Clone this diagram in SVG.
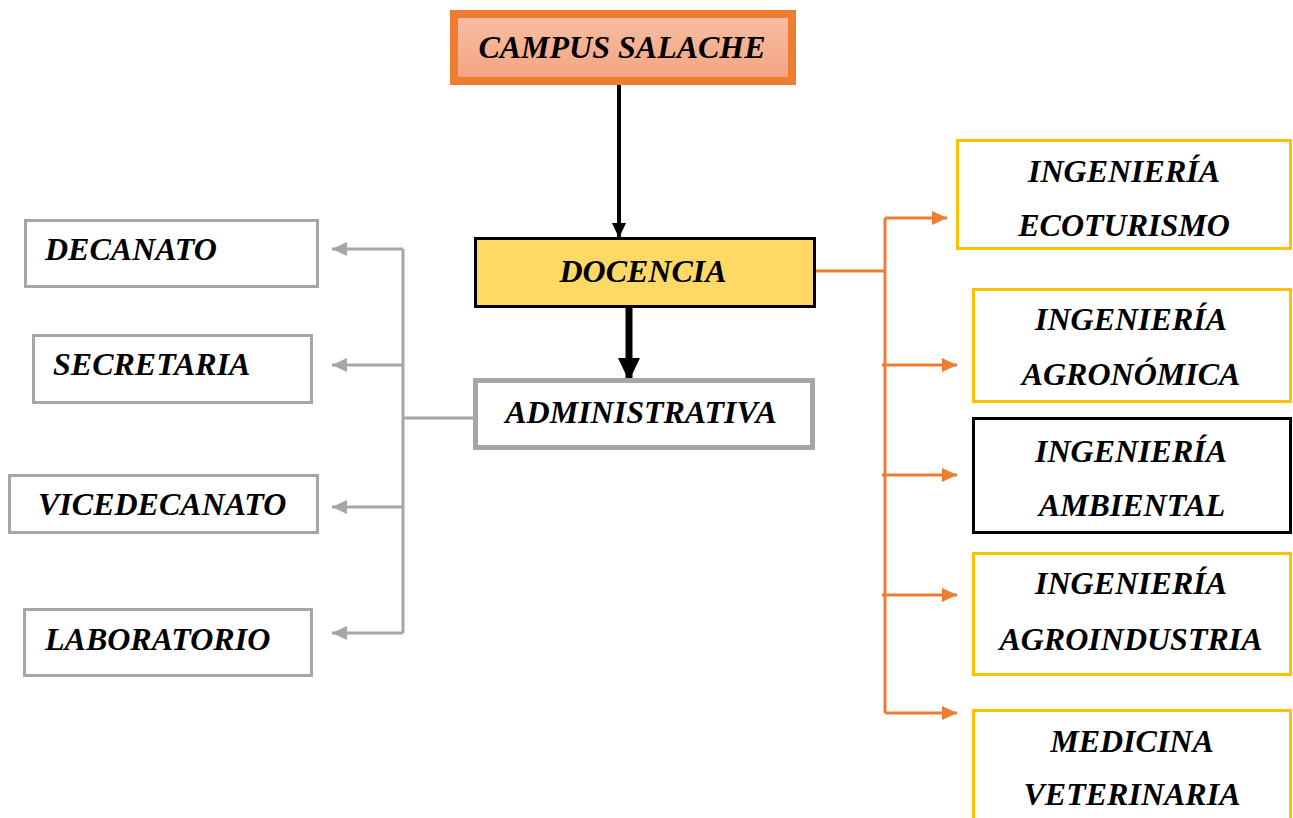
<svg xmlns="http://www.w3.org/2000/svg" width="1293" height="818" viewBox="0 0 1293 818">
<defs>
<linearGradient id="gCampus" x1="0" y1="0" x2="0" y2="1">
<stop offset="0" stop-color="#F7BEA4"/>
<stop offset="1" stop-color="#F4A47F"/>
</linearGradient>
<marker id="mGray" markerUnits="userSpaceOnUse" markerWidth="16" markerHeight="16" viewBox="0 0 16 16" refX="15" refY="8" orient="auto">
<path d="M0,1 L15,8 L0,15 Z" fill="#A6A6A6"/>
</marker>
<marker id="mOrange" markerUnits="userSpaceOnUse" markerWidth="16" markerHeight="16" viewBox="0 0 16 16" refX="15" refY="8" orient="auto">
<path d="M0,1 L15,8 L0,15 Z" fill="#ED7D31"/>
</marker>
<marker id="mBlack" markerUnits="userSpaceOnUse" markerWidth="16" markerHeight="16" viewBox="0 0 16 16" refX="15" refY="8" orient="auto">
<path d="M0,1 L15,8 L0,15 Z" fill="#000"/>
</marker>
<marker id="mBlackBig" markerUnits="userSpaceOnUse" markerWidth="24" markerHeight="24" viewBox="0 0 24 24" refX="23" refY="12" orient="auto">
<path d="M0,1 L23,12 L0,23 Z" fill="#000"/>
</marker>
</defs>
<style>
text{font-family:"Liberation Serif","Times New Roman",serif;font-weight:bold;font-style:italic;font-size:32px;fill:#000}
.c{text-anchor:middle}
.gray{fill:#fff;stroke:#A6A6A6;stroke-width:3}
.gold{fill:#fff;stroke:#FFC000;stroke-width:3}
.gl{fill:none;stroke:#A6A6A6;stroke-width:3}
.ol{fill:none;stroke:#ED7D31;stroke-width:3}
</style>
<rect width="1293" height="818" fill="#fff"/>

<g id="connectors">
<line x1="619" y1="85" x2="619" y2="238" stroke="#000" stroke-width="4" marker-end="url(#mBlack)"/>
<line x1="629" y1="308" x2="629" y2="381" stroke="#000" stroke-width="7" marker-end="url(#mBlackBig)"/>
<polyline class="gl" points="473,418 403,418"/>
<polyline class="gl" points="403,249 403,633"/>
<polyline class="gl" points="403,249 332,249" marker-end="url(#mGray)"/>
<polyline class="gl" points="403,365 332,365" marker-end="url(#mGray)"/>
<polyline class="gl" points="403,507 332,507" marker-end="url(#mGray)"/>
<polyline class="gl" points="403,633 332,633" marker-end="url(#mGray)"/>
<polyline class="ol" points="816,271 885,271"/>
<polyline class="ol" points="885,218 885,713"/>
<polyline class="ol" points="885,218 947,218" marker-end="url(#mOrange)"/>
<polyline class="ol" points="882,365 957,365" marker-end="url(#mOrange)"/>
<polyline class="ol" points="882,475 957,475" marker-end="url(#mOrange)"/>
<polyline class="ol" points="882,595 957,595" marker-end="url(#mOrange)"/>
<polyline class="ol" points="885,713 957,713" marker-end="url(#mOrange)"/>
</g>

<g id="campus">
<rect x="454" y="14" width="338" height="67" fill="url(#gCampus)" stroke="#ED7D31" stroke-width="8"/>
<text class="c" x="622" y="58">CAMPUS SALACHE</text>
</g>
<g id="docencia">
<rect x="475.5" y="238.5" width="339" height="68" fill="#FFD966" stroke="#000" stroke-width="3"/>
<text class="c" x="643" y="282">DOCENCIA</text>
</g>
<g id="administrativa">
<rect x="475.5" y="380.5" width="337" height="67" fill="#fff" stroke="#A6A6A6" stroke-width="5"/>
<text class="c" x="641" y="423">ADMINISTRATIVA</text>
</g>

<g id="decanato">
<rect class="gray" x="25.5" y="220.5" width="292" height="66"/>
<text x="45" y="260">DECANATO</text>
</g>
<g id="secretaria">
<rect class="gray" x="33.5" y="335.5" width="278" height="67"/>
<text x="53" y="375">SECRETARIA</text>
</g>
<g id="vicedecanato">
<rect class="gray" x="9.5" y="475.5" width="308" height="57"/>
<text x="38" y="515">VICEDECANATO</text>
</g>
<g id="laboratorio">
<rect class="gray" x="24.5" y="609.5" width="287" height="66"/>
<text x="45" y="650">LABORATORIO</text>
</g>

<g id="ecoturismo">
<rect class="gold" x="957.5" y="140.5" width="333" height="108"/>
<text class="c" x="1124" y="182">INGENIERÍA</text>
<text class="c" x="1124" y="236">ECOTURISMO</text>
</g>
<g id="agronomica">
<rect class="gold" x="973.5" y="289.5" width="317" height="112"/>
<text class="c" x="1131" y="330">INGENIERÍA</text>
<text class="c" x="1131" y="385">AGRONÓMICA</text>
</g>
<g id="ambiental">
<rect x="973.5" y="418.5" width="317" height="114" fill="#fff" stroke="#000" stroke-width="3"/>
<text class="c" x="1131" y="462">INGENIERÍA</text>
<text class="c" x="1132" y="516">AMBIENTAL</text>
</g>
<g id="agroindustria">
<rect class="gold" x="973.5" y="553.5" width="317" height="121"/>
<text class="c" x="1131" y="594">INGENIERÍA</text>
<text class="c" x="1131" y="650">AGROINDUSTRIA</text>
</g>
<g id="veterinaria">
<rect class="gold" x="973.5" y="710.5" width="317" height="130"/>
<text class="c" x="1132" y="752">MEDICINA</text>
<text class="c" x="1132" y="805">VETERINARIA</text>
</g>
</svg>
